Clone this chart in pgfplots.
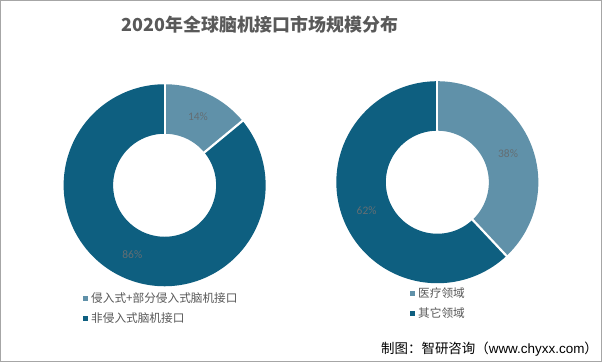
\documentclass[border=0pt]{standalone}
\usepackage{fontspec}
\setmainfont{Carlito}
\newfontfamily\cjk{Noto Sans CJK SC}
\newfontfamily\lat{Liberation Sans}
\usepackage{pgfplots}
\pgfplotsset{compat=1.18}
\definecolor{dark}{RGB}{14,95,128}
\definecolor{light}{RGB}{96,145,169}
\definecolor{txt}{RGB}{89,89,89}
\definecolor{lbl}{RGB}{100,110,115}
\pgfplotsset{
  donut/.style={scale only axis, width=202bp, height=202bp,
    xmin=-1, xmax=1, ymin=-1, ymax=1, hide axis, clip=false, anchor=center},
  ring/.style={line width=49.5bp, samples=240, no marks},
  sep/.style={white, line width=2.2bp, samples=2, no marks, domain=0.49:1.01},
}
\begin{document}
\begin{tikzpicture}[x=1bp,y=1bp]
\useasboundingbox (0,0) rectangle (602,362);
\fill[white] (0,0) rectangle (602,362);
\draw[gray!70, line width=1bp] (0.5,0.5) rectangle (601.5,361.5);
\node[font=\cjk\bfseries\fontsize{18}{18}\selectfont, text=txt] at (260,337) {2020年全球脑机接口市场规模分布};
% left donut: 14 / 86
\begin{axis}[donut, at={(163,175)}]
\addplot[ring, light, domain=39.6:90] ({0.755*cos(x)},{0.755*sin(x)});
\addplot[ring, dark, domain=-270:39.6] ({0.755*cos(x)},{0.755*sin(x)});
\addplot[sep] ({x*cos(90)},{x*sin(90)});
\addplot[sep] ({x*cos(39.6)},{x*sin(39.6)});
\node[text=lbl, font=\fontsize{11.5}{11.5}\selectfont] at (axis cs:0.33,0.68) {14\%};
\node[text=lbl, font=\fontsize{11.5}{11.5}\selectfont] at (axis cs:-0.32,-0.69) {86\%};
\end{axis}
% right donut: 38 / 62
\begin{axis}[donut, at={(433,178)}]
\addplot[ring, light, domain=-46.8:90] ({0.755*cos(x)},{0.755*sin(x)});
\addplot[ring, dark, domain=-270:-46.8] ({0.755*cos(x)},{0.755*sin(x)});
\addplot[sep] ({x*cos(90)},{x*sin(90)});
\addplot[sep] ({x*cos(-46.8)},{x*sin(-46.8)});
\node[text=lbl, font=\fontsize{11.5}{11.5}\selectfont] at (axis cs:0.70,0.28) {38\%};
\node[text=lbl, font=\fontsize{11.5}{11.5}\selectfont] at (axis cs:-0.70,-0.28) {62\%};
\end{axis}
% legends
\fill[light] (82.5,61.5) rectangle (87.5,66.5);
\node[anchor=west, inner sep=0, text=txt, font=\cjk\fontsize{11.7}{11.7}\selectfont] at (91,64) {侵入式+部分侵入式脑机接口};
\fill[dark] (82.5,41.5) rectangle (87.5,46.5);
\node[anchor=west, inner sep=0, text=txt, font=\cjk\fontsize{11.7}{11.7}\selectfont] at (91,44) {非侵入式脑机接口};
\fill[light] (409.5,66.5) rectangle (414.5,71.5);
\node[anchor=west, inner sep=0, text=txt, font=\cjk\fontsize{11.7}{11.7}\selectfont] at (418,69) {医疗领域};
\fill[dark] (409.5,46.5) rectangle (414.5,51.5);
\node[anchor=west, inner sep=0, text=txt, font=\cjk\fontsize{11.7}{11.7}\selectfont] at (418,49) {其它领域};
% footer
\node[anchor=west, inner sep=0, text=black, font=\cjk\fontsize{13.5}{13.5}\selectfont] at (381,13) {制图：智研咨询（{\lat www.chyxx.com}）};
\end{tikzpicture}
\end{document}
